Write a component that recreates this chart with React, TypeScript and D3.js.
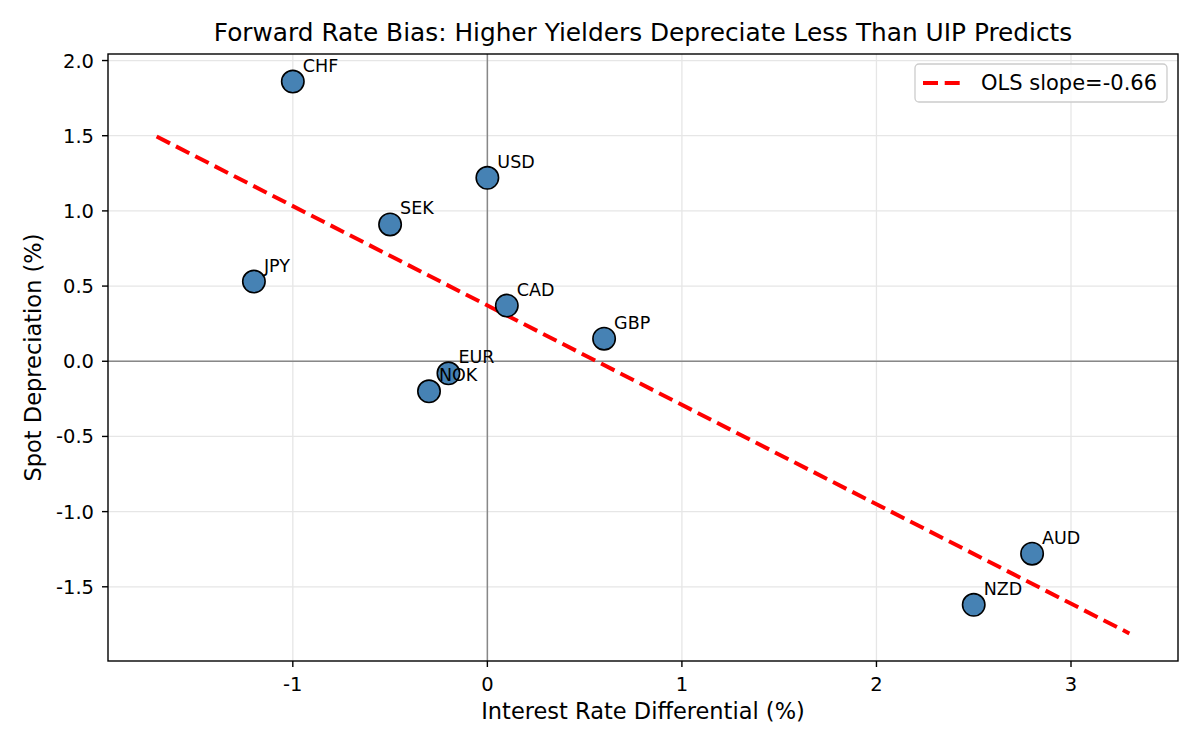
import React from 'react';
import * as d3 from 'd3';

interface Currency {
  code: string;
  diff: number;
  dep: number;
}

// interest rate differential (%) and spot depreciation (%) per currency
const CODES = ['CHF', 'USD', 'SEK', 'JPY', 'CAD', 'GBP', 'EUR', 'NOK', 'AUD', 'NZD'];
const RATE_DIFF = [-1.0, 0.0, -0.5, -1.2, 0.1, 0.6, -0.2, -0.3, 2.8, 2.5];
const SPOT_DEP = [1.86, 1.22, 0.91, 0.53, 0.37, 0.15, -0.08, -0.2, -1.28, -1.62];

const X_TICKS = [-1, 0, 1, 2, 3];
const Y_TICKS = [-1.5, -1.0, -0.5, 0.0, 0.5, 1.0, 1.5, 2.0];

const TITLE = 'Forward Rate Bias: Higher Yielders Depreciate Less Than UIP Predicts';
const X_LABEL = 'Interest Rate Differential (%)';
const Y_LABEL = 'Spot Depreciation (%)';

const WIDTH = 1200;
const HEIGHT = 750;
const margin = { top: 54, right: 22, bottom: 89, left: 108 };
const FONT = '"DejaVu Sans", sans-serif';

const data: Currency[] = CODES.map((code, i) => ({ code, diff: RATE_DIFF[i], dep: SPOT_DEP[i] }));

// ordinary least squares fit
const mx = d3.mean(RATE_DIFF) as number;
const my = d3.mean(SPOT_DEP) as number;
const sxy = d3.sum(data, d => (d.diff - mx) * (d.dep - my));
const sxx = d3.sum(data, d => (d.diff - mx) ** 2);
const slope = sxy / sxx;
const intercept = my - slope * mx;
const lineX = [(d3.min(RATE_DIFF) as number) - 0.5, (d3.max(RATE_DIFF) as number) + 0.5];
const fitLine: [number, number][] = lineX.map(x => [x, intercept + slope * x]);

const padded = (vals: number[]): [number, number] => {
  const [lo, hi] = d3.extent(vals) as [number, number];
  const pad = (hi - lo) * 0.05;
  return [lo - pad, hi + pad];
};

const App: React.FC = () => {
  const x = d3.scaleLinear()
    .domain(padded([...RATE_DIFF, ...lineX]))
    .range([margin.left, WIDTH - margin.right]);
  const y = d3.scaleLinear()
    .domain(padded([...SPOT_DEP, ...fitLine.map(p => p[1])]))
    .range([HEIGHT - margin.bottom, margin.top]);

  const [x0, x1] = x.range();
  const [y0, y1] = y.range();
  const line = d3.line<[number, number]>().x(d => x(d[0])).y(d => y(d[1]));
  const gridColor = '#e6e6e6';

  return (
    <>
      <style>{'body{margin:0}'}</style>
      <svg width={WIDTH} height={HEIGHT} fontFamily={FONT} style={{ display: 'block', background: '#fff' }}>
        <defs>
          <clipPath id="plot-clip">
            <rect x={x0} y={y1} width={x1 - x0} height={y0 - y1} />
          </clipPath>
        </defs>

        {/* grid */}
        {X_TICKS.map(t => (
          <line key={'gx' + t} x1={x(t)} x2={x(t)} y1={y1} y2={y0} stroke={gridColor} strokeWidth={1.3} />
        ))}
        {Y_TICKS.map(t => (
          <line key={'gy' + t} x1={x0} x2={x1} y1={y(t)} y2={y(t)} stroke={gridColor} strokeWidth={1.3} />
        ))}

        {/* zero reference lines */}
        <line x1={x0} x2={x1} y1={y(0)} y2={y(0)} stroke="#888" strokeWidth={1.5} />
        <line x1={x(0)} x2={x(0)} y1={y1} y2={y0} stroke="#888" strokeWidth={1.5} />

        {/* OLS fit */}
        <path d={line(fitLine) || ''} fill="none" stroke="#ff0000" strokeWidth={4}
          strokeDasharray="15,6.7" clipPath="url(#plot-clip)" />

        {/* points */}
        {data.map(d => (
          <circle key={d.code} cx={x(d.diff)} cy={y(d.dep)} r={11.2}
            fill="#4682b4" stroke="#000" strokeWidth={1.6} />
        ))}
        {data.map(d => (
          <text key={'t' + d.code} x={x(d.diff) + 10} y={y(d.dep) - 10} fontSize={17.5} fill="#000">
            {d.code}
          </text>
        ))}

        {/* frame */}
        <rect x={x0} y={y1} width={x1 - x0} height={y0 - y1} fill="none" stroke="#000" strokeWidth={1.4} />

        {/* x axis */}
        {X_TICKS.map(t => (
          <g key={'xt' + t}>
            <line x1={x(t)} x2={x(t)} y1={y0} y2={y0 + 6} stroke="#000" strokeWidth={1.4} />
            <text x={x(t)} y={y0 + 30} textAnchor="middle" fontSize={19.5} fill="#000">{d3.format('d')(t).replace('−', '-')}</text>
          </g>
        ))}
        {/* y axis */}
        {Y_TICKS.map(t => (
          <g key={'yt' + t}>
            <line x1={x0 - 6} x2={x0} y1={y(t)} y2={y(t)} stroke="#000" strokeWidth={1.4} />
            <text x={x0 - 14} y={y(t)} dy="0.36em" textAnchor="end" fontSize={19.5} fill="#000">{d3.format('.1f')(t).replace('−', '-')}</text>
          </g>
        ))}

        {/* labels */}
        <text x={(x0 + x1) / 2} y={719} textAnchor="middle" fontSize={22.5} fill="#000">{X_LABEL}</text>
        <text transform={`translate(41,${(y0 + y1) / 2}) rotate(-90)`} textAnchor="middle" fontSize={22.5} fill="#000">{Y_LABEL}</text>
        <text x={(x0 + x1) / 2} y={41} textAnchor="middle" fontSize={24.8} fill="#000">{TITLE}</text>

        {/* legend */}
        <g>
          <rect x={915} y={64} width={252} height={38} rx={4} fill="#fff" fillOpacity={0.8} stroke="#ccc" strokeWidth={1.3} />
          <line x1={923} x2={960} y1={83} y2={83} stroke="#ff0000" strokeWidth={4} strokeDasharray="15,6.7" />
          <text x={981} y={90} fontSize={21} fill="#000">{`OLS slope=${slope.toFixed(2)}`}</text>
        </g>
      </svg>
    </>
  );
};

export default App;
